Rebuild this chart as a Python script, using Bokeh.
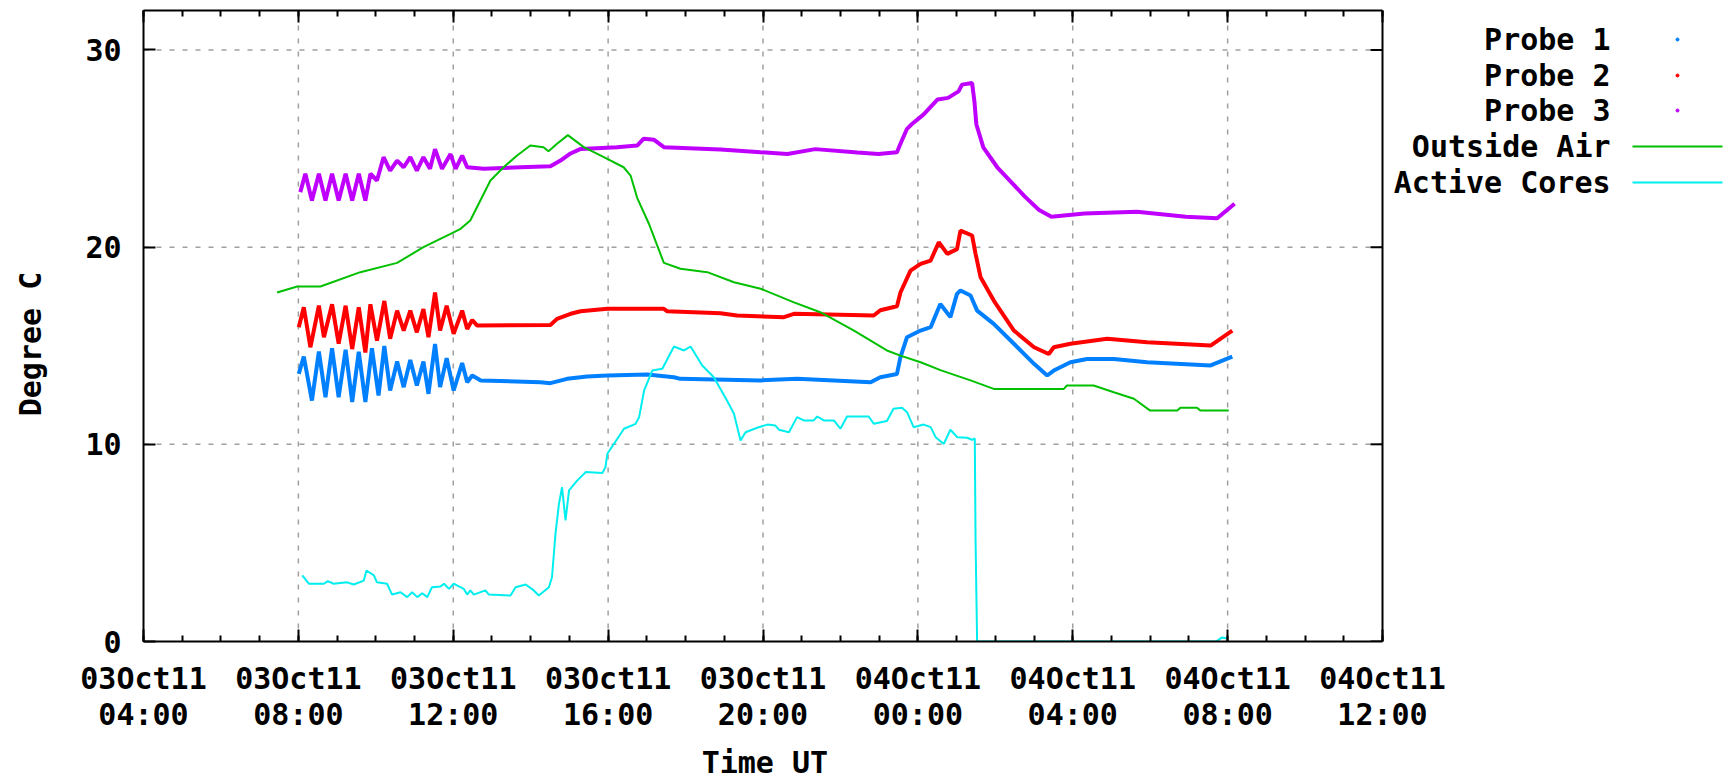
from bokeh.plotting import figure
from bokeh.models import FixedTicker, LinearAxis, CustomJSTickFormatter
from bokeh.embed import file_html
from bokeh.resources import INLINE
from bokeh.core.properties import value

# ---------------- data (time = hours since 03 Oct 2011 00:00 UT) ----------------
x_tick_hours = [4, 8, 12, 16, 20, 24, 28, 32, 36]
x_tick_labels = ["03Oct11\n04:00", "03Oct11\n08:00", "03Oct11\n12:00", "03Oct11\n16:00",
                 "03Oct11\n20:00", "04Oct11\n00:00", "04Oct11\n04:00", "04Oct11\n08:00",
                 "04Oct11\n12:00"]
y_ticks = [0, 10, 20, 30]

probe1_t = [8.01, 8.14, 8.35, 8.53, 8.7, 8.87, 9.04, 9.22, 9.39, 9.56, 9.73, 9.9, 10.07, 10.22,
            10.37, 10.55, 10.72, 10.89, 11.06, 11.23, 11.36, 11.53, 11.66, 11.83, 12.01, 12.23,
            12.36, 12.49, 12.71, 14.25, 14.51, 14.94, 15.46, 15.98, 17.01, 17.7, 17.87, 19.94,
            20.88, 22.78, 23.03, 23.46, 23.55, 23.72, 24.07, 24.33, 24.58, 24.84, 25.01, 25.1,
            25.36, 25.53, 25.96, 26.48, 27.0, 27.34, 27.51, 27.94, 28.37, 29.06, 29.92, 31.56, 32.12]
probe1_v = [13.57, 14.45, 12.22, 14.7, 12.39, 14.87, 12.39, 14.79, 12.14, 14.7, 12.14, 14.87, 12.48,
            14.99, 12.73, 14.2, 12.9, 14.28, 12.98, 14.2, 12.56, 15.09, 12.9, 14.37, 12.73, 14.12,
            13.15, 13.49, 13.24, 13.15, 13.1, 13.32, 13.44, 13.49, 13.54, 13.4, 13.32, 13.24,
            13.32, 13.15, 13.4, 13.57, 14.42, 15.43, 15.77, 15.94, 17.12, 16.45, 17.63, 17.8,
            17.55, 16.78, 16.11, 15.1, 14.08, 13.49, 13.74, 14.16, 14.33, 14.33, 14.16, 14.0, 14.45]

probe2_t = [8.01, 8.14, 8.31, 8.53, 8.66, 8.87, 9.04, 9.22, 9.39, 9.56, 9.73, 9.86, 10.03, 10.22,
            10.37, 10.55, 10.72, 10.89, 11.06, 11.23, 11.36, 11.53, 11.66, 11.83, 12.01, 12.23,
            12.36, 12.49, 12.62, 14.51, 14.68, 15.03, 15.29, 15.98, 17.44, 17.52, 18.9, 19.33,
            20.54, 20.8, 22.86, 23.03, 23.46, 23.55, 23.81, 24.07, 24.33, 24.54, 24.76, 25.01,
            25.1, 25.4, 25.49, 25.62, 25.96, 26.48, 27.0, 27.38, 27.51, 27.94, 28.89, 29.92,
            31.56, 32.12]
probe2_v = [15.94, 16.95, 14.92, 17.03, 15.43, 17.1, 15.1, 17.03, 14.83, 16.95, 14.66, 17.1, 15.26,
            17.27, 15.35, 16.78, 15.77, 16.78, 15.68, 16.86, 15.43, 17.7, 15.77, 17.03, 15.6, 16.78,
            15.85, 16.3, 16.02, 16.05, 16.36, 16.62, 16.75, 16.87, 16.87, 16.75, 16.65, 16.53,
            16.45, 16.62, 16.53, 16.8, 17.0, 17.7, 18.81, 19.15, 19.32, 20.25, 19.66, 19.9,
            20.84, 20.59, 19.66, 18.47, 17.29, 15.77, 14.92, 14.58, 14.92, 15.1, 15.35, 15.18,
            15.01, 15.77]

probe3_t = [8.05, 8.18, 8.35, 8.53, 8.7, 8.87, 9.04, 9.22, 9.39, 9.56, 9.73, 9.86, 10.03, 10.2,
            10.37, 10.55, 10.72, 10.89, 11.06, 11.23, 11.4, 11.53, 11.71, 11.93, 12.06, 12.23,
            12.36, 12.79, 13.74, 14.51, 14.77, 15.03, 15.29, 16.23, 16.75, 16.92, 17.18, 17.44,
            18.9, 19.94, 20.63, 21.35, 22.44, 22.98, 23.46, 23.55, 23.72, 23.84, 24.15, 24.51,
            24.78, 25.05, 25.14, 25.4, 25.46, 25.51, 25.69, 26.05, 26.41, 26.77, 27.13, 27.45,
            28.3, 29.66, 30.92, 31.73, 32.18]
probe3_v = [22.79, 23.72, 22.36, 23.72, 22.36, 23.72, 22.36, 23.72, 22.36, 23.72, 22.36, 23.72,
            23.38, 24.56, 23.88, 24.39, 24.05, 24.56, 23.88, 24.56, 23.97, 24.97, 23.97, 24.72,
            23.97, 24.64, 24.05, 23.97, 24.05, 24.1, 24.39, 24.75, 24.98, 25.07, 25.15, 25.5,
            25.45, 25.07, 24.95, 24.81, 24.72, 24.97, 24.8, 24.72, 24.81, 25.24, 26.0, 26.23,
            26.73, 27.49, 27.57, 27.9, 28.24, 28.32, 27.4, 26.23, 25.06, 24.05, 23.3, 22.55,
            21.88, 21.54, 21.7, 21.79, 21.54, 21.46, 22.2]

air_t = [7.45, 7.97, 8.57, 9.6, 10.55, 11.23, 11.93, 12.19, 12.44, 12.96, 13.3, 13.65, 13.99,
         14.33, 14.46, 14.68, 14.96, 15.37, 15.89, 16.4, 16.58, 16.75, 17.05, 17.44, 17.87,
         18.56, 19.25, 19.94, 20.8, 21.48, 22.35, 23.2, 23.55, 24.07, 24.6, 25.36, 25.96,
         27.77, 27.85, 28.54, 29.06, 29.58, 30.0, 30.7, 30.78, 31.21, 31.3, 32.03]
air_v = [17.7, 18.0, 18.0, 18.73, 19.2, 20.0, 20.67, 20.93, 21.35, 23.38, 24.05, 24.65, 25.15,
         25.07, 24.86, 25.24, 25.68, 25.07, 24.56, 24.05, 23.63, 22.5, 21.2, 19.2, 18.9,
         18.73, 18.22, 17.89, 17.2, 16.7, 15.77, 14.76, 14.5, 14.16, 13.75, 13.24, 12.81,
         12.81, 12.98, 12.98, 12.64, 12.31, 11.71, 11.71, 11.85, 11.85, 11.71, 11.71]

cores_t = [8.1, 8.27, 8.66, 8.76, 8.91, 9.26, 9.43, 9.69, 9.76, 9.95, 10.03, 10.29, 10.42, 10.64,
           10.81, 10.94, 11.07, 11.2, 11.33, 11.45, 11.67, 11.76, 11.89, 12.01, 12.27, 12.36,
           12.44, 12.53, 12.83, 12.92, 13.48, 13.61, 13.87, 14.08, 14.21, 14.47, 14.55, 14.64,
           14.73, 14.81, 14.9, 14.99, 15.2, 15.42, 15.85, 15.93, 15.98, 16.41, 16.71, 16.8,
           16.93, 17.14, 17.4, 17.7, 17.96, 18.13, 18.43, 18.73, 19.07, 19.25, 19.42, 19.55,
           19.85, 20.11, 20.32, 20.41, 20.67, 20.88, 21.05, 21.31, 21.4, 21.57, 21.83, 22.0,
           22.17, 22.73, 22.86, 23.2, 23.37, 23.59, 23.72, 23.89, 24.15, 24.33, 24.46, 24.67,
           24.84, 25.02, 25.27, 25.4, 25.47, 25.49, 25.53, 31.7, 31.85, 32.0]
cores_v = [3.35, 2.93, 2.93, 3.06, 2.93, 3.0, 2.89, 3.09, 3.6, 3.35, 3.0, 2.93, 2.38, 2.5,
           2.25, 2.5, 2.25, 2.45, 2.25, 2.75, 2.79, 2.93, 2.67, 2.93, 2.67, 2.38,
           2.59, 2.38, 2.59, 2.38, 2.33, 2.75, 2.89, 2.59, 2.33, 2.75, 3.26, 5.46,
           6.98, 7.82, 6.14, 7.66, 8.16, 8.59, 8.54, 8.84, 9.52, 10.79, 11.04, 11.38,
           12.73, 13.74, 13.83, 14.96, 14.76, 14.96, 14.0, 13.4, 12.22, 11.55, 10.19, 10.61,
           10.84, 11.0, 10.95, 10.74, 10.61, 11.38, 11.21, 11.21, 11.41, 11.21, 11.21, 10.79,
           11.41, 11.41, 11.04, 11.18, 11.8, 11.85, 11.63, 10.87, 11.0, 10.87, 10.36, 10.02,
           10.74, 10.36, 10.33, 10.23, 10.3, 5.12, 0.0, 0.0, 0.2, 0.15]

series_names = ["Probe 1", "Probe 2", "Probe 3", "Outside Air", "Active Cores"]
series_colors = ["#0080ff", "#ff0000", "#c000ff", "#00c000", "#00eeee"]

# ---------------- layout ----------------
FONT_NAME = "DejaVu Sans Mono"
FSIZE = "30px"
TOTAL_W = 1729
LEFT, TOP = 143, 10
BOX_W, BOX_H = 1239, 631          # the plot box (04:00 .. 12:00, 0 .. 32 degC)
X0, X1, Y0, Y1 = 4, 36, 0, 32
PPH = BOX_W / (X1 - X0)           # pixels per hour
PPU = BOX_H / (Y1 - Y0)           # pixels per degree
FRAME_W = TOTAL_W - LEFT          # frame also holds the key area to the right of the box

p = figure(frame_width=FRAME_W, frame_height=BOX_H,
           x_range=(X0, X0 + FRAME_W / PPH), y_range=(Y0, Y1),
           output_backend="svg", toolbar_location=None,
           min_border_left=LEFT, min_border_right=0, min_border_top=TOP, min_border_bottom=0)
p.background_fill_color = "white"
p.border_fill_color = "white"
p.outline_line_color = None
p.grid.visible = False

xb = p.xaxis[0]
yl = p.yaxis[0]

xticker = FixedTicker(ticks=x_tick_hours, minor_ticks=list(range(X0, X1 + 1)))
yticker = FixedTicker(ticks=y_ticks, minor_ticks=[])
xb.ticker = xticker
yl.ticker = yticker
xb.bounds = (X0, X1)
xb.major_label_overrides = {h: lab for h, lab in zip(x_tick_hours, x_tick_labels)}

blank = CustomJSTickFormatter(code="return '';")
top_ax = LinearAxis(ticker=xticker, formatter=blank, major_label_standoff=0, bounds=(X0, X1))
p.add_layout(top_ax, "above")

for ax in [xb, yl, top_ax]:
    ax.axis_line_color = "black"
    ax.axis_line_width = 2
    ax.major_tick_line_color = "black"
    ax.major_tick_line_width = 2
    ax.minor_tick_line_color = "black"
    ax.minor_tick_line_width = 2
    ax.major_tick_in = 12
    ax.major_tick_out = 0
    ax.minor_tick_in = 6
    ax.minor_tick_out = 0

for ax in [xb, yl]:
    ax.major_label_text_font = FONT_NAME
    ax.major_label_text_font_style = "bold"
    ax.major_label_text_font_size = FSIZE
    ax.major_label_text_color = "black"
    ax.axis_label_text_font = FONT_NAME
    ax.axis_label_text_font_style = "bold"
    ax.axis_label_text_font_size = FSIZE
    ax.axis_label_text_color = "black"

# the axis label is centred on the whole frame (which includes the key area);
# trailing no-break spaces move the visible text back under the centre of the plot box
xb.axis_label = "Time UT" + "\u00a0" * 19
xb.major_label_text_line_height = 1.03
xb.major_label_standoff = 19
xb.axis_label_standoff = 10
yl.axis_label = "Degree C\u00a0\u00a0"
yl.major_label_standoff = 22
yl.axis_label_standoff = 34

# dashed grid at the major ticks, limited to the plot box
gx = x_tick_hours[1:-1]
p.segment(x0=gx, x1=gx, y0=[Y0] * len(gx), y1=[Y1] * len(gx),
          line_color="#a0a0a0", line_dash="5 8", line_width=1.5)
gy = y_ticks[1:]
p.segment(x0=[X0] * len(gy), x1=[X1] * len(gy), y0=gy, y1=gy,
          line_color="#a0a0a0", line_dash="5 8", line_width=1.5)

# data
p.line(probe1_t, probe1_v, color=series_colors[0], line_width=4)
p.line(probe2_t, probe2_v, color=series_colors[1], line_width=4)
p.line(probe3_t, probe3_v, color=series_colors[2], line_width=4)
p.line(air_t, air_v, color=series_colors[3], line_width=2)
p.line(cores_t, cores_v, color=series_colors[4], line_width=2)

# right border of the plot box with its inward (mirrored) y ticks
p.segment(x0=[X1], x1=[X1], y0=[Y0], y1=[Y1], line_color="black", line_width=2)
tick_dx = 12 / PPH
p.segment(x0=[X1 - tick_dx] * len(y_ticks), x1=[X1] * len(y_ticks), y0=y_ticks, y1=y_ticks,
          line_color="black", line_width=2)

# ---------------- key (gnuplot style: label on the left, sample on the right) ----------------
def px_x(sx):
    return X0 + (sx - LEFT) / PPH

def px_y(sy):
    return Y1 - (sy - TOP) / PPU

key_rows = [px_y(sy) for sy in [39, 75, 110, 146, 182]]
p.text(x=[px_x(1610)] * 5, y=key_rows, text=series_names, text_align="right",
       text_baseline="middle", text_font=value(FONT_NAME), text_font_style="bold",
       text_font_size=FSIZE, text_color="black")
p.scatter(x=[px_x(1677)] * 3, y=key_rows[:3], size=3, color=series_colors[:3])
p.segment(x0=[px_x(1632)] * 2, x1=[px_x(1722)] * 2, y0=key_rows[3:], y1=key_rows[3:],
          color=series_colors[3:], line_width=2)

open("out.html", "w").write(file_html(p, INLINE))
